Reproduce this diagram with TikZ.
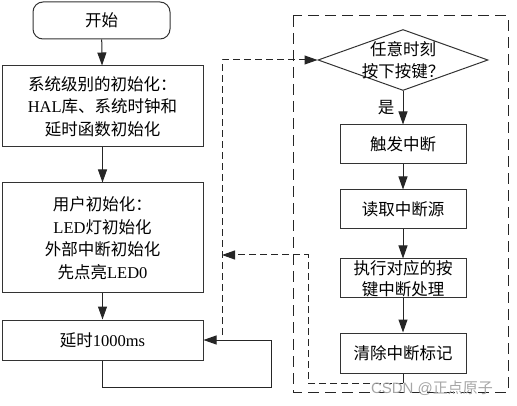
\documentclass[tikz,border=0pt]{standalone}
\usepackage{fontspec}
\setmainfont{Liberation Serif}
\setsansfont{Liberation Sans}
\newfontfamily\cjk{Noto Sans CJK SC}
\usetikzlibrary{arrows.meta,shapes.geometric}
\newcommand\en[1]{{\rmfamily #1}}
\tikzset{
  txt/.style={font=\cjk\fontsize{16.5}{22.5}\selectfont, align=center, inner sep=0pt},
  arr/.style={-{Triangle[length=13pt,width=9pt]}, line width=1pt, black!85},
  dasharr/.style={arr, dash pattern=on 7pt off 4pt},
  startbox/.style={txt, draw=black!80, line width=1pt, rounded corners=10pt,
    minimum width=137pt, minimum height=37pt},
  proc/.style={txt, draw=black!80, line width=1pt, minimum width=#1},
  askbox/.style={diamond, draw=black!80, line width=1pt,
    minimum width=170pt, minimum height=61pt, inner sep=0pt},
  frame/.style={draw=black!85, line width=1pt, dash pattern=on 11pt off 6pt}
}
\begin{document}
\begin{tikzpicture}[x=1pt,y=-1pt]
  \useasboundingbox (0,0) rectangle (517,406);
  % main program
  \node[startbox] (start) at (101.5,20.5) {开始};
  \node[proc=201pt, minimum height=81pt] (sys) at (102.5,106.5)
    {系统级别的初始化：\\\en{HAL}库、系统时钟和\\延时函数初始化};
  \node[proc=201pt, minimum height=110pt] (user) at (102.5,238)
    {用户初始化：\\\en{LED}灯初始化\\外部中断初始化\\先点亮\en{LED0}};
  \node[proc=201pt, minimum height=40pt] (delay) at (102.5,340) {延时\en{1000ms}};
  \draw[arr] (start) -- (sys);
  \draw[arr] (sys) -- (user);
  \draw[arr] (user) -- (delay);
  \draw[arr] (delay.south) |- (271,387) |- (delay.east);
  % interrupt service
  \draw[frame] (293,16) rectangle (508,392);
  \node[askbox] (ask) at (403,60) {};
  \node[txt] (asktxt) at (ask) {任意时刻\\按下按键？};
  \node[proc=126pt, minimum height=39pt] (trig) at (403,144.5) {触发中断};
  \node[proc=126pt, minimum height=39pt] (read) at (403,209.5) {读取中断源};
  \node[proc=126pt, minimum height=39pt, font=\cjk\fontsize{16.5}{21}\selectfont] (exec) at (403,278.5)
    {执行对应的按\\键中断处理};
  \node[proc=126pt, minimum height=40pt] (clr) at (403,353) {清除中断标记};
  \node[txt] (yes) at (386,108) {是};
  \draw[arr] (ask.south) -- (trig);
  \draw[arr] (trig) -- (read);
  \draw[arr] (read) -- (exec);
  \draw[arr] (exec) -- (clr);
  % jump in and back
  \coordinate (tap) at (222,335);
  \coordinate (back) at (222,255);
  \coordinate (isrend) at (403,383);
  \draw[dasharr] (tap) |- (ask.west);
  \draw[line width=1pt, black!85] (clr.south) -- (isrend);
  \draw[dasharr] (isrend) -| (308,255) -- (back);
  \node[text=black!35, font=\sffamily\fontsize{15}{15}\selectfont] (mark) at (432,388)
    {CSDN @{\cjk 正点原子}};
\end{tikzpicture}
\end{document}
